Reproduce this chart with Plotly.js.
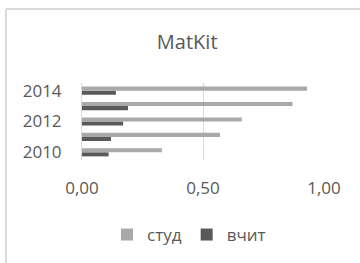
<!DOCTYPE html>
<html>
<head>
<meta charset="utf-8">
<script src="https://cdn.plot.ly/plotly-3.0.1.min.js"></script>
<style>
html,body{margin:0;padding:0;background:#fff;}
#chart{width:360px;height:263px;}
</style>
</head>
<body>
<div id="chart"></div>
<script>
var years = ['2010', '2011', '2012', '2013', '2014'];
var stud = [0.33, 0.57, 0.66, 0.87, 0.93];
var vchyt = [0.11, 0.12, 0.17, 0.19, 0.14];
var seriesNames = ['студ', 'вчит'];
var yearTicks = ['2010', '2012', '2014'];
var xTickVals = [0, 0.5, 1];
var xTickText = ['0,00', '0,50', '1,00'];

var textColor = '#595959';
var fontFam = '"Open Sans", "DejaVu Sans", sans-serif';

var traces = [
  {
    type: 'bar', orientation: 'h', name: seriesNames[1],
    y: years, x: vchyt,
    marker: {color: '#595959'},
    hoverinfo: 'none'
  },
  {
    type: 'bar', orientation: 'h', name: seriesNames[0],
    y: years, x: stud,
    marker: {color: '#a9a9a9'},
    hoverinfo: 'none'
  }
];

var layout = {
  width: 360, height: 263,
  paper_bgcolor: '#fff', plot_bgcolor: '#fff',
  margin: {l: 82, r: 36, t: 83, b: 103},
  font: {family: fontFam, color: textColor, size: 17},
  title: {
    text: 'MatKit',
    font: {family: fontFam, size: 20, color: textColor},
    x: 0.52, xref: 'container', xanchor: 'center',
    y: 1 - 42 / 263, yref: 'container', yanchor: 'middle'
  },
  barmode: 'group',
  bargap: 0.47,
  bargroupgap: 0,
  xaxis: {
    range: [0, 1],
    tickvals: xTickVals, ticktext: xTickText,
    showgrid: true, gridcolor: '#d9d9d9', gridwidth: 1,
    zeroline: false, showline: false, ticks: '',
    ticklabelstandoff: 16,
    tickfont: {size: 17, color: textColor},
    fixedrange: true
  },
  yaxis: {
    type: 'category',
    categoryorder: 'array', categoryarray: years,
    range: [-0.5, 4.5],
    tickvals: yearTicks, ticktext: yearTicks,
    showgrid: false, zeroline: false,
    showline: true, linecolor: '#d9d9d9', linewidth: 1,
    ticks: '',
    ticklabelstandoff: 16,
    tickfont: {size: 17, color: textColor},
    fixedrange: true
  },
  showlegend: true,
  legend: {
    orientation: 'h', traceorder: 'reversed',
    x: 189 / 360, xref: 'container', xanchor: 'center',
    y: 1 - 235 / 263, yref: 'container', yanchor: 'middle',
    font: {size: 17, color: textColor},
    itemwidth: 30
  },
  shapes: [
    {type: 'line', xref: 'paper', yref: 'paper',
     x0: -76 / 242, x1: 2, y0: (160 - 9) / 77, y1: (160 - 9) / 77, line: {color: '#d9d9d9', width: 2}},
    {type: 'line', xref: 'paper', yref: 'paper',
     x0: -76 / 242, x1: -76 / 242, y0: (160 - 9) / 77, y1: -2, line: {color: '#d9d9d9', width: 2}}
  ]
};

Plotly.newPlot('chart', traces, layout, {displayModeBar: false, staticPlot: true});
</script>
</body>
</html>
